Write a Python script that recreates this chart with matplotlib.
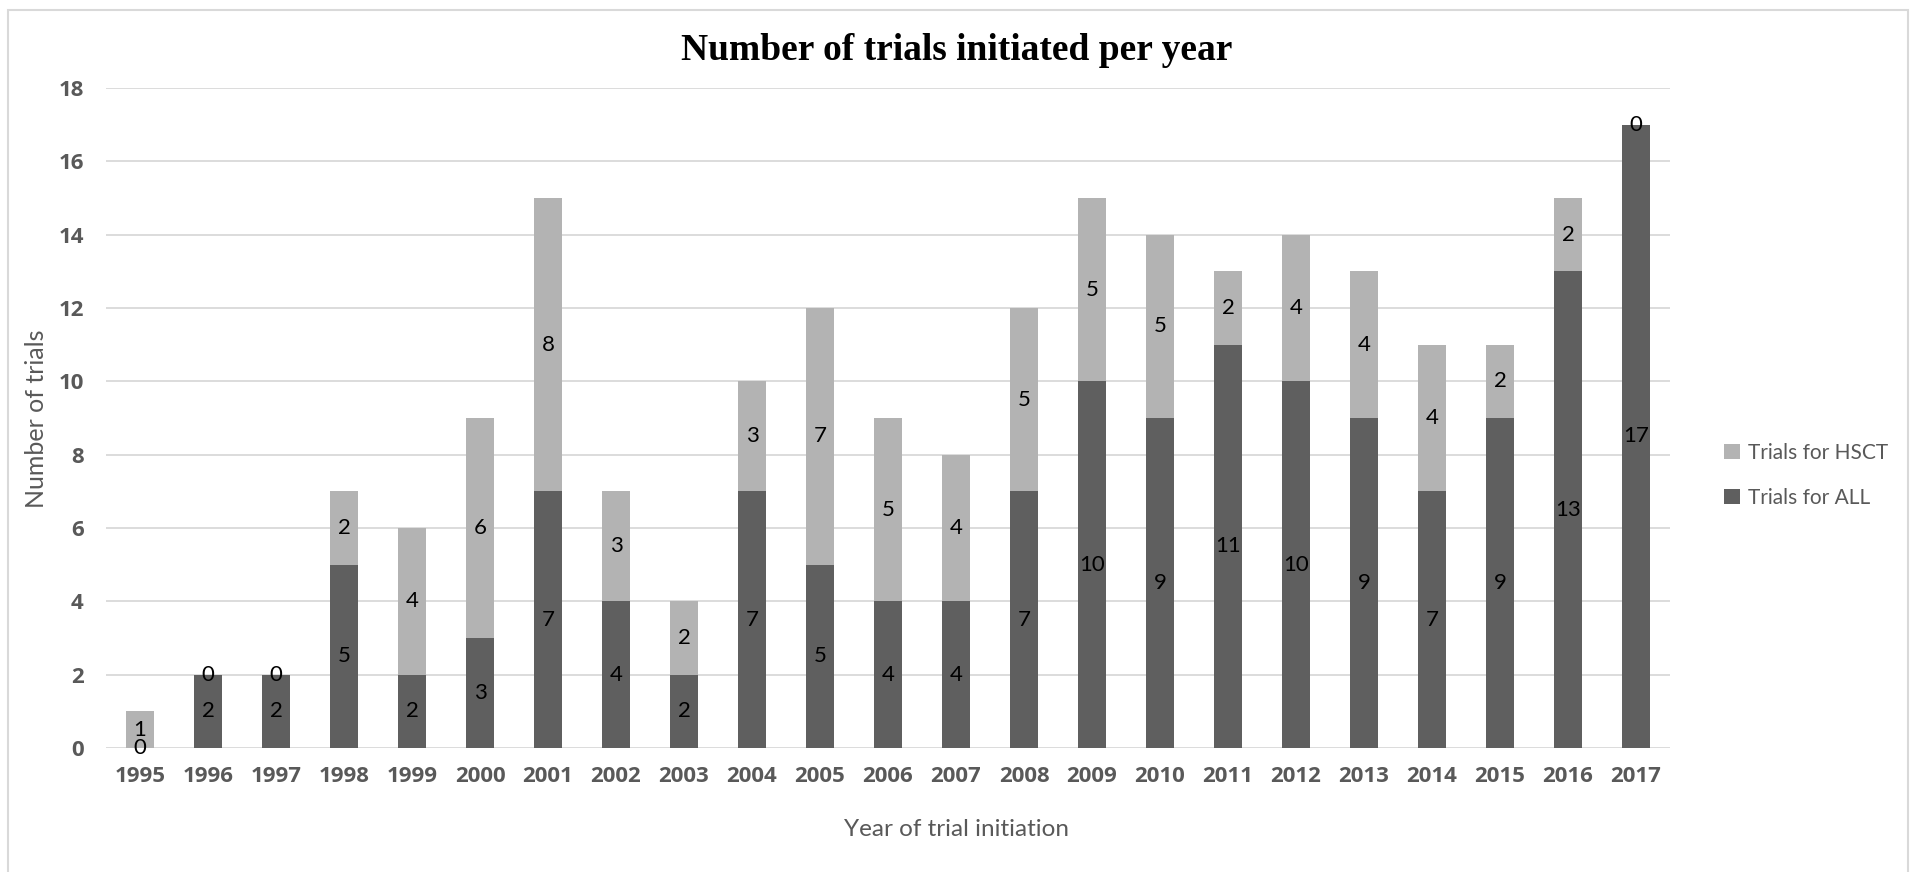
import matplotlib
matplotlib.use("Agg")
import matplotlib.pyplot as plt
from matplotlib.patches import Rectangle
import numpy as np

years = ["1995", "1996", "1997", "1998", "1999", "2000", "2001", "2002", "2003", "2004", "2005", "2006",
         "2007", "2008", "2009", "2010", "2011", "2012", "2013", "2014", "2015", "2016", "2017"]
trials_all = [0, 2, 2, 5, 2, 3, 7, 4, 2, 7, 5, 4, 4, 7, 10, 9, 11, 10, 9, 7, 9, 13, 17]
trials_hsct = [1, 0, 0, 2, 4, 6, 8, 3, 2, 3, 7, 5, 4, 5, 5, 5, 2, 4, 4, 4, 2, 2, 0]
yticks = [0, 2, 4, 6, 8, 10, 12, 14, 16, 18]

C_ALL = "#5f5f5f"
C_HSCT = "#b3b3b3"
TXT = "#595959"
FONT = "Lato"
BOLDFONT = "Open Sans"

fig = plt.figure(figsize=(19.14, 8.72), dpi=100)
fig.patches.append(Rectangle((0.0042, -0.05), 0.9925, 1.039, transform=fig.transFigure,
                             fill=False, edgecolor="#d9d9d9", linewidth=1.5))
ax = fig.add_axes([0.0554, 0.1422, 0.8171, 0.7568])

x = np.arange(len(years))
w = 0.4
b1 = ax.bar(x, trials_all, width=w, color=C_ALL, label="Trials for ALL", zorder=3)
b2 = ax.bar(x, trials_hsct, width=w, bottom=trials_all, color=C_HSCT, label="Trials for HSCT", zorder=3)

for i in range(len(years)):
    a = trials_all[i]
    h = trials_hsct[i]
    ax.text(x[i], a / 2, str(a), ha="center", va="center", fontsize=16, color="black",
            family=FONT, zorder=4)
    ax.text(x[i], a + h / 2, str(h), ha="center", va="center", fontsize=16, color="black",
            family=FONT, zorder=4)

ax.set_xlim(-0.5, len(years) - 0.5)
ax.set_ylim(0, 18)
ax.set_yticks(yticks)
ax.set_xticks(x)
ax.set_xticklabels(years)
ax.yaxis.grid(True, color="#d9d9d9", linewidth=1.3, zorder=0)
ax.set_axisbelow(True)
for s in ax.spines.values():
    s.set_visible(False)
ax.tick_params(axis="both", length=0, labelsize=16, labelcolor=TXT)
ax.tick_params(axis="x", pad=13)
ax.tick_params(axis="y", pad=16)
for lab in ax.get_xticklabels() + ax.get_yticklabels():
    lab.set_fontweight("bold")
    lab.set_family(BOLDFONT)

fig.text(37 / 1914, 1 - 419 / 872, "Number of trials", rotation=90, ha="center", va="center",
         fontsize=18, color=TXT, family=FONT)
fig.text(0.5, 1 - 829 / 872, "Year of trial initiation", ha="center", va="center",
         fontsize=17.5, color=TXT, family=FONT)
fig.text(0.5, 1 - 51 / 872, "Number of trials initiated per year", ha="center", va="center",
         fontsize=27, fontweight="bold", family="Liberation Serif", color="black")

handles = [b2, b1]
leg = fig.legend(handles, ["Trials for HSCT", "Trials for ALL"], loc="center left",
                 bbox_to_anchor=(0.891, 0.455), frameon=False,
                 prop={"family": FONT, "size": 15}, handlelength=0.75, handleheight=0.75,
                 handletextpad=0.4, labelspacing=1.2)
for t in leg.get_texts():
    t.set_color(TXT)

fig.savefig("out.png", dpi=100)
